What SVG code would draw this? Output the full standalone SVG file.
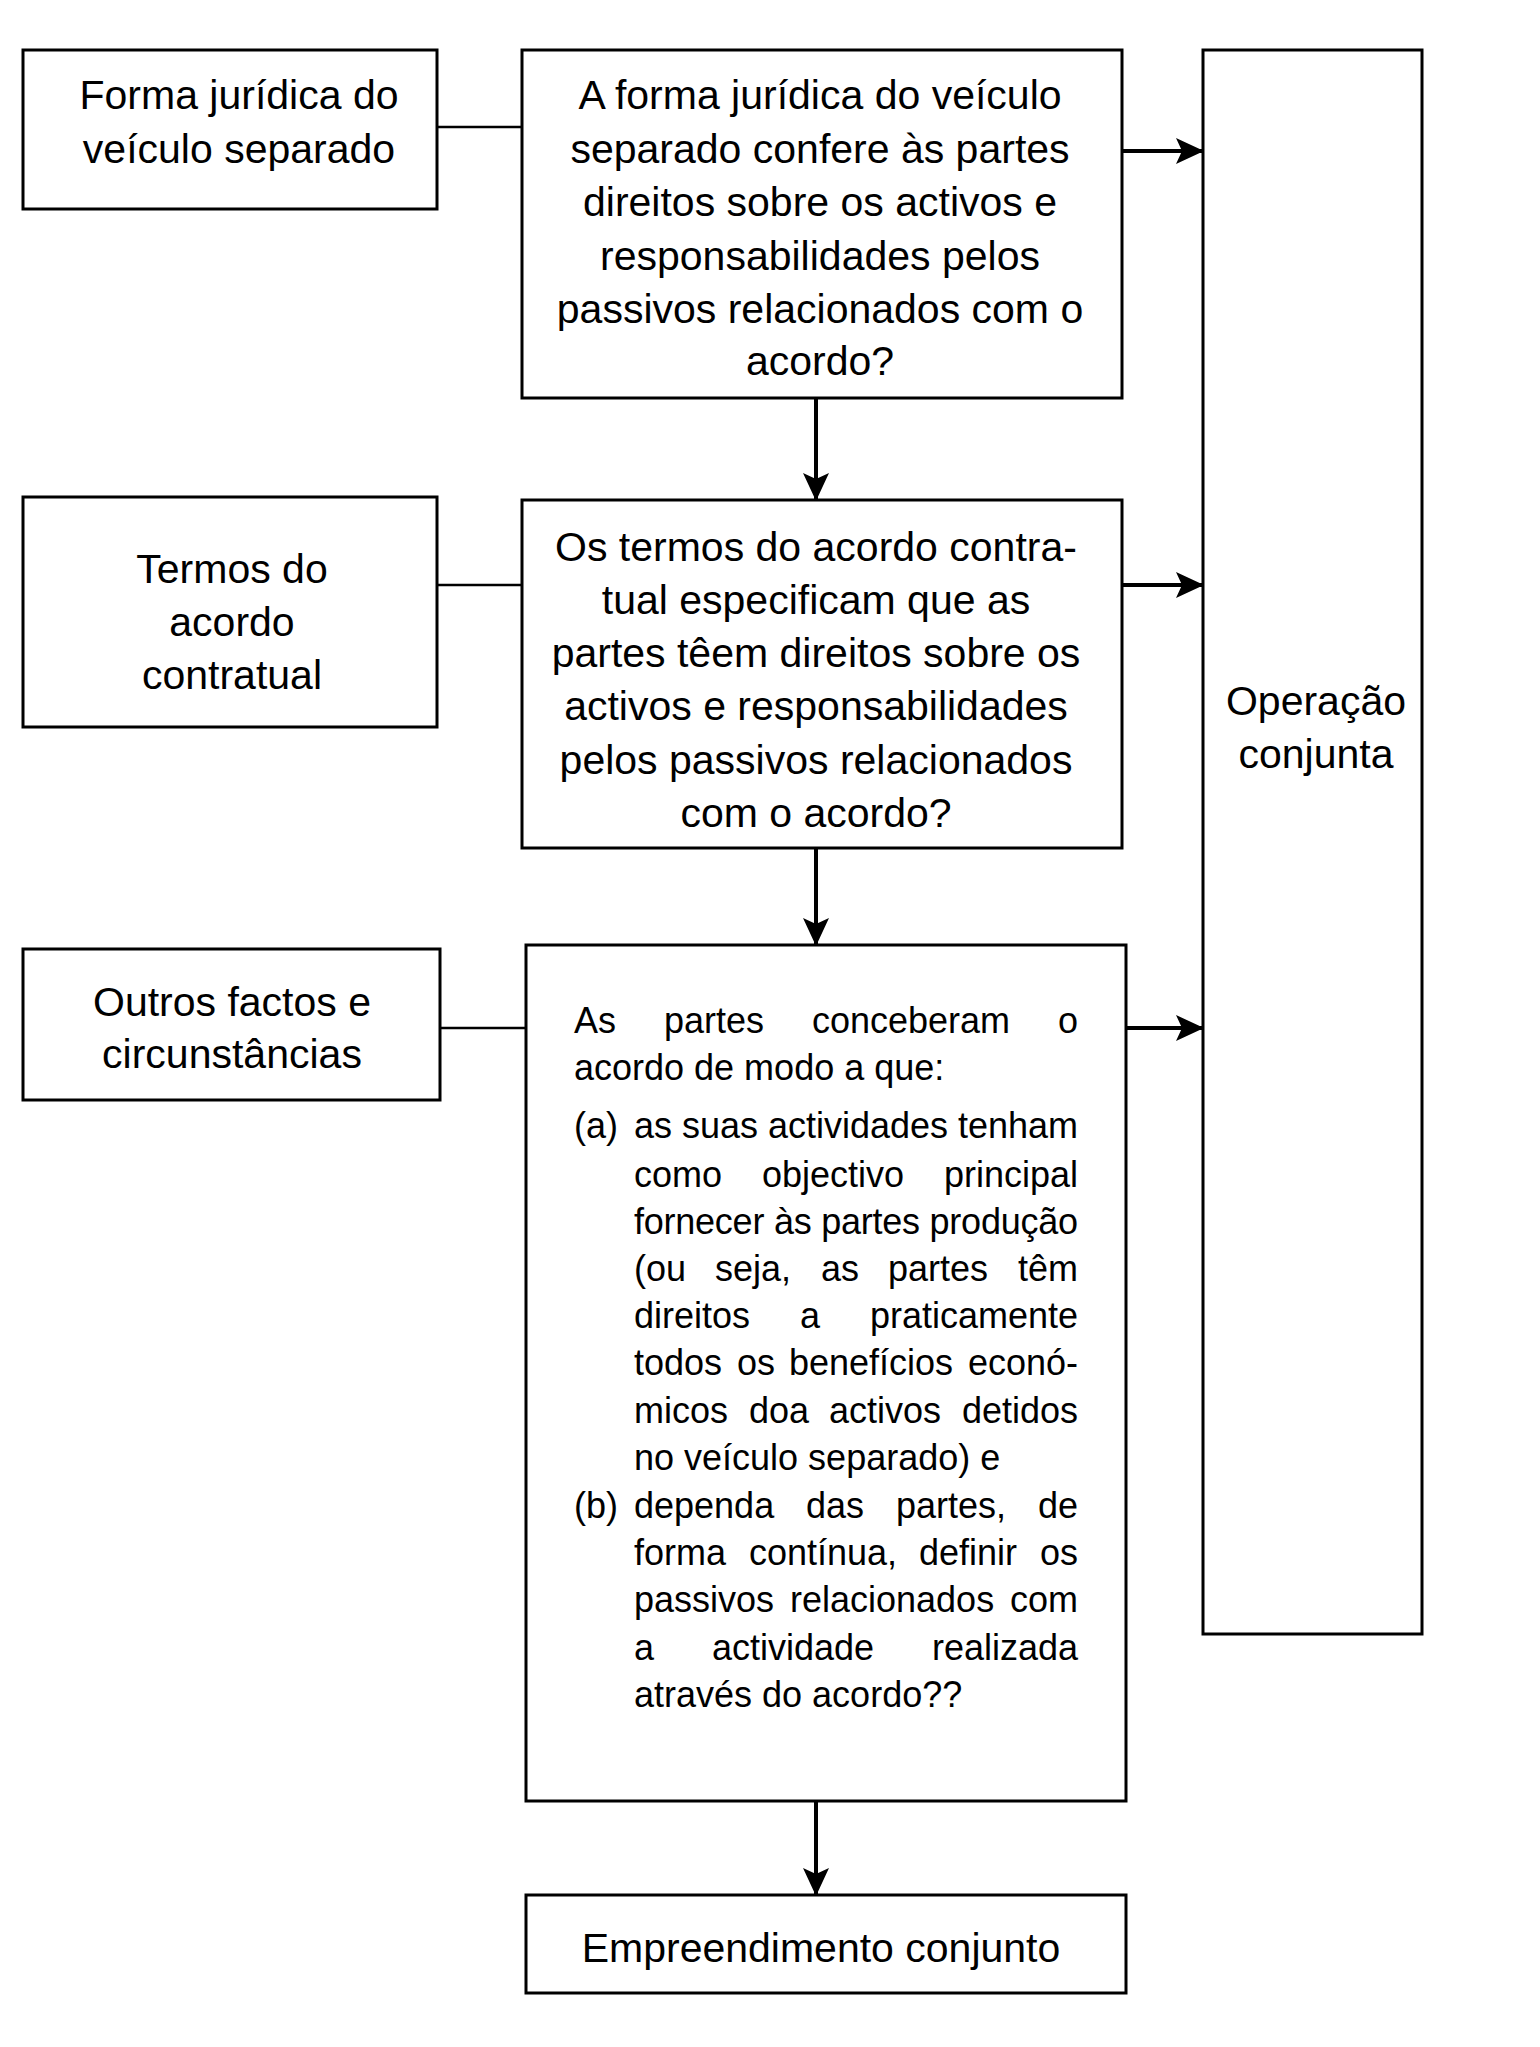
<svg xmlns="http://www.w3.org/2000/svg" width="1540" height="2047" viewBox="0 0 1540 2047">
<style>
  .box { fill: #fff; stroke: #000; stroke-width: 3; }
  .t { font-family: "Liberation Sans", Arial, sans-serif; font-size: 41px; fill: #000; text-anchor: middle; }
  .s { font-family: "Liberation Sans", Arial, sans-serif; font-size: 36px; fill: #000; }
  .line { stroke: #000; stroke-width: 2.5; fill: none; }
  .arr { stroke: #000; stroke-width: 4; fill: none; marker-end: url(#ah); }
</style>
<defs>
  <marker id="ah" markerUnits="userSpaceOnUse" markerWidth="28" markerHeight="26" refX="27" refY="13" orient="auto" viewBox="0 0 28 26">
    <path d="M0,0 L28,13 L0,26 L6,13 z" fill="#000"/>
  </marker>
</defs>
<rect width="1540" height="2047" fill="#fff"/>

<g id="connectors">
  <line class="line" x1="437" y1="127" x2="522" y2="127"/>
  <line class="line" x1="437" y1="585" x2="522" y2="585"/>
  <line class="line" x1="440" y1="1028" x2="526" y2="1028"/>
  <line class="arr" x1="1122" y1="151" x2="1203" y2="151"/>
  <line class="arr" x1="1122" y1="585" x2="1203" y2="585"/>
  <line class="arr" x1="1126" y1="1028" x2="1203" y2="1028"/>
  <line class="arr" x1="816" y1="398" x2="816" y2="500"/>
  <line class="arr" x1="816" y1="848" x2="816" y2="945"/>
  <line class="arr" x1="816" y1="1801" x2="816" y2="1895"/>
</g>

<g id="node-forma">
  <rect class="box" x="23" y="50" width="414" height="159"/>
  <text class="t" x="239" y="109">Forma jurídica do</text>
  <text class="t" x="239" y="163">veículo separado</text>
</g>

<g id="node-q1">
  <rect class="box" x="522" y="50" width="600" height="348"/>
  <text class="t" x="820" y="109">A forma jurídica do veículo</text>
  <text class="t" x="820" y="163">separado confere às partes</text>
  <text class="t" x="820" y="216">direitos sobre os activos e</text>
  <text class="t" x="820" y="270">responsabilidades pelos</text>
  <text class="t" x="820" y="323">passivos relacionados com o</text>
  <text class="t" x="820" y="375">acordo?</text>
</g>

<g id="node-termos">
  <rect class="box" x="23" y="497" width="414" height="230"/>
  <text class="t" x="232" y="583">Termos do</text>
  <text class="t" x="232" y="636">acordo</text>
  <text class="t" x="232" y="689">contratual</text>
</g>

<g id="node-q2">
  <rect class="box" x="522" y="500" width="600" height="348"/>
  <text class="t" x="816" y="561">Os termos do acordo contra-</text>
  <text class="t" x="816" y="614">tual especificam que as</text>
  <text class="t" x="816" y="667">partes têem direitos sobre os</text>
  <text class="t" x="816" y="720">activos e responsabilidades</text>
  <text class="t" x="816" y="774">pelos passivos relacionados</text>
  <text class="t" x="816" y="827">com o acordo?</text>
</g>

<g id="node-outros">
  <rect class="box" x="23" y="949" width="417" height="151"/>
  <text class="t" x="232" y="1016">Outros factos e</text>
  <text class="t" x="232" y="1068">circunstâncias</text>
</g>

<g id="node-q3">
  <rect class="box" x="526" y="945" width="600" height="856"/>
  <text class="s" y="1033"><tspan x="574">As</tspan><tspan x="664">partes</tspan><tspan x="812">conceberam</tspan><tspan x="1078" text-anchor="end">o</tspan></text>
  <text class="s" x="574" y="1080">acordo de modo a que:</text>
  <text class="s" x="574" y="1138">(a)</text>
  <text class="s" x="634" y="1138" textLength="444" lengthAdjust="spacing">as suas actividades tenham</text>
  <text class="s" y="1187"><tspan x="634">como</tspan><tspan x="762">objectivo</tspan><tspan x="1078" text-anchor="end">principal</tspan></text>
  <text class="s" x="634" y="1234" textLength="444" lengthAdjust="spacing">fornecer às partes produção</text>
  <text class="s" y="1281"><tspan x="634">(ou</tspan><tspan x="715">seja,</tspan><tspan x="821">as</tspan><tspan x="888">partes</tspan><tspan x="1078" text-anchor="end">têm</tspan></text>
  <text class="s" y="1328"><tspan x="634">direitos</tspan><tspan x="800">a</tspan><tspan x="1078" text-anchor="end">praticamente</tspan></text>
  <text class="s" y="1375"><tspan x="634">todos</tspan><tspan x="737">os</tspan><tspan x="789">benefícios</tspan><tspan x="1078" text-anchor="end">econó-</tspan></text>
  <text class="s" y="1423"><tspan x="634">micos</tspan><tspan x="749">doa</tspan><tspan x="829">activos</tspan><tspan x="1078" text-anchor="end">detidos</tspan></text>
  <text class="s" x="634" y="1470">no veículo separado) e</text>
  <text class="s" x="574" y="1518">(b)</text>
  <text class="s" y="1518"><tspan x="634">dependa</tspan><tspan x="806">das</tspan><tspan x="896">partes,</tspan><tspan x="1078" text-anchor="end">de</tspan></text>
  <text class="s" y="1565"><tspan x="634">forma</tspan><tspan x="749">contínua,</tspan><tspan x="919">definir</tspan><tspan x="1078" text-anchor="end">os</tspan></text>
  <text class="s" y="1612"><tspan x="634">passivos</tspan><tspan x="790">relacionados</tspan><tspan x="1078" text-anchor="end">com</tspan></text>
  <text class="s" y="1660"><tspan x="634">a</tspan><tspan x="712">actividade</tspan><tspan x="1078" text-anchor="end">realizada</tspan></text>
  <text class="s" x="634" y="1707">através do acordo??</text>
</g>

<g id="node-empreendimento">
  <rect class="box" x="526" y="1895" width="600" height="98"/>
  <text class="t" x="821" y="1962">Empreendimento conjunto</text>
</g>

<g id="node-operacao">
  <rect class="box" x="1203" y="50" width="219" height="1584"/>
  <text class="t" x="1316" y="715">Operação</text>
  <text class="t" x="1316" y="768">conjunta</text>
</g>
</svg>
